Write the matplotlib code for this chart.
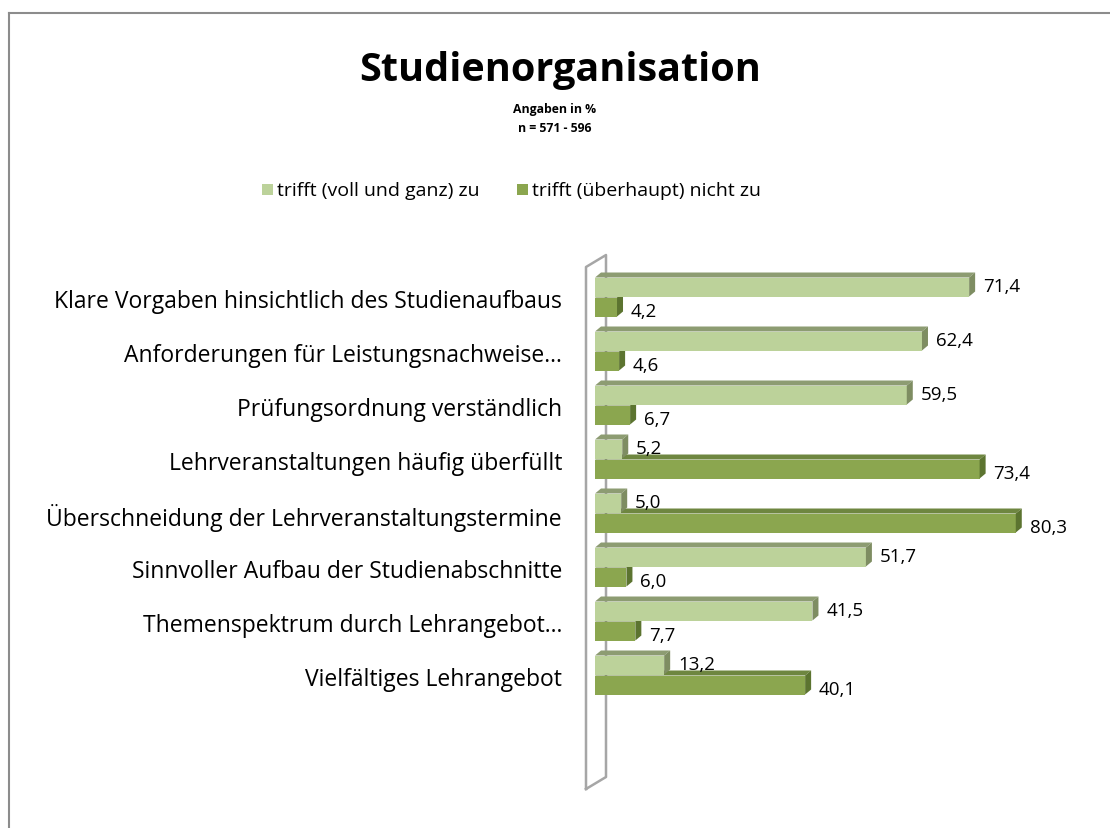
import matplotlib
matplotlib.use("Agg")
import matplotlib.pyplot as plt
from matplotlib.patches import Polygon, Rectangle
from matplotlib.lines import Line2D

plt.rcParams['font.family'] = ['Open Sans', 'DejaVu Sans']

# Daten
kategorien = [
    "Klare Vorgaben hinsichtlich des Studienaufbaus",
    "Anforderungen für Leistungsnachweise…",
    "Prüfungsordnung verständlich",
    "Lehrveranstaltungen häufig überfüllt",
    "Überschneidung der Lehrveranstaltungstermine",
    "Sinnvoller Aufbau der Studienabschnitte",
    "Themenspektrum durch Lehrangebot…",
    "Vielfältiges Lehrangebot",
]
trifft_zu = [71.4, 62.4, 59.5, 5.2, 5.0, 51.7, 41.5, 13.2]
trifft_nicht_zu = [4.2, 4.6, 6.7, 73.4, 80.3, 6.0, 7.7, 40.1]
serien = ["trifft (voll und ganz) zu", "trifft (überhaupt) nicht zu"]

# Farben (Front, Oberseite, Seite)
hell = ("#bcd29a", "#8d9c72", "#7e8d62")
dunkel = ("#8ba64f", "#6e8640", "#5c7430")

W, H = 1110, 829
fig = plt.figure(figsize=(W / 100, H / 100), dpi=100)

# Rahmen
fig.add_artist(Line2D([9 / W, 9 / W], [0, 1 - 14 / H], color="#8c8c8c", lw=1.5))
fig.add_artist(Line2D([9 / W, 1], [1 - 14 / H, 1 - 14 / H], color="#8c8c8c", lw=1.5))

# Achse in Pixel-Lage
px_x = 5.24   # Pixel pro Prozentpunkt
px_y = 54.0   # Pixel pro Gruppe
ax_l, ax_r = 595, 1105
ax_t, ax_b = 250, 800
ax = fig.add_axes([ax_l / W, 1 - ax_b / H, (ax_r - ax_l) / W, (ax_b - ax_t) / H])
ax.set_xlim(0, (ax_r - ax_l) / px_x)
y_top = (ax_t - 298) / px_y
y_bot = (ax_b - 298) / px_y
ax.set_ylim(y_bot, y_top)
ax.axis("off")

dx = 6 / px_x
dy = 5 / px_y
h = 19 / px_y
off = 10 / px_y


def balken(v, c, farben, z):
    top, bot = c - h / 2, c + h / 2
    ax.add_patch(Rectangle((0, top), v, h, facecolor=farben[0], edgecolor="none",
                           zorder=z, clip_on=False))
    ax.add_patch(Polygon([(0, top), (v, top), (v + dx, top - dy), (dx, top - dy)],
                         closed=True, facecolor=farben[1], edgecolor="none",
                         zorder=z, clip_on=False))
    ax.add_patch(Polygon([(v, top), (v + dx, top - dy), (v + dx, bot - dy), (v, bot)],
                         closed=True, facecolor=farben[2], edgecolor="none",
                         zorder=z, clip_on=False))


# Wand
wx0 = -9 / px_x
wx1 = 11 / px_x
wall_top = (268 - 298) / px_y
wall_bot = (790 - 298) / px_y
wd = 12 / px_y
ax.plot([wx0, wx0, wx1, wx1, wx0], [wall_bot, wall_top, wall_top - wd, wall_bot - wd, wall_bot],
        color="#a6a6a6", lw=1.8, zorder=1, clip_on=False)

for i in range(len(kategorien)):
    z = 3 + 2 * i
    balken(trifft_nicht_zu[i], i + off, dunkel, z)
    balken(trifft_zu[i], i - off, hell, z + 1)
    ax.text(trifft_zu[i] + 14 / px_x, i - off - 1 / px_y, f"{trifft_zu[i]:.1f}".replace(".", ","),
            ha="left", va="center", fontsize=13.5, color="black", zorder=30)
    ax.text(trifft_nicht_zu[i] + 14 / px_x, i + off + 4 / px_y,
            f"{trifft_nicht_zu[i]:.1f}".replace(".", ","),
            ha="left", va="center", fontsize=13.5, color="black", zorder=30)
    ax.text(-33 / px_x, i + 4 / px_y, kategorien[i], ha="right", va="center",
            fontsize=16.5, color="black")

# Titel
fig.text(560 / W, 1 - 70 / H, "Studienorganisation", ha="center", va="center",
         fontsize=28.5, fontweight="bold")
fig.text(555 / W, 1 - 110 / H, "Angaben in %", ha="center", va="center",
         fontsize=8.8, fontweight="bold")
fig.text(555 / W, 1 - 128 / H, "n = 571 - 596", ha="center", va="center",
         fontsize=8.8, fontweight="bold")

# Legende
for xs, farbe, text in [(262, hell[0], serien[0]), (517, dunkel[0], serien[1])]:
    fig.add_artist(Rectangle((xs / W, 1 - 196 / H), 11 / W, 11 / H,
                             facecolor=farbe, edgecolor="none"))
    fig.text((xs + 15) / W, 1 - 191 / H, text, ha="left", va="center", fontsize=14)

fig.savefig("out.png", dpi=100)
